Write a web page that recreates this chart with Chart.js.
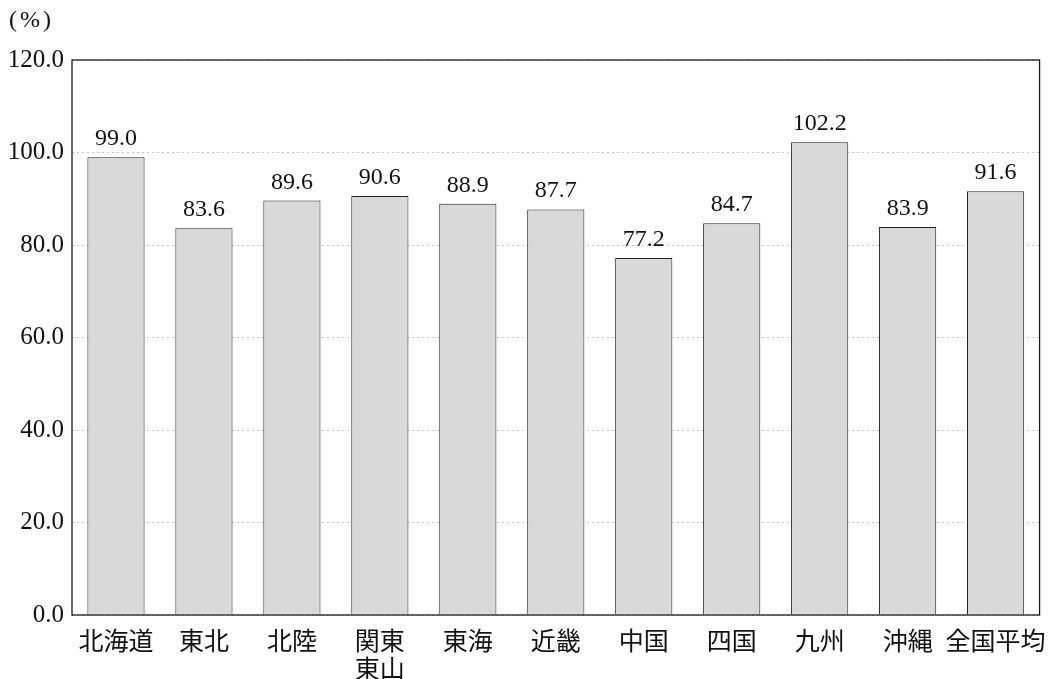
<!DOCTYPE html>
<html>
<head>
<meta charset="utf-8">
<script src="https://cdn.jsdelivr.net/npm/chart.js@4"></script>
<style>
  html, body { margin: 0; padding: 0; background: #fff; }
  #wrap { width: 1050px; height: 679px; position: relative; }
</style>
</head>
<body>
<div id="wrap"><canvas id="chart"></canvas></div>
<script>
const regions = ['北海道', '東北', '北陸', ['関東', '東山'], '東海', '近畿', '中国', '四国', '九州', '沖縄', '全国平均'];
const rates = [99.0, 83.6, 89.6, 90.6, 88.9, 87.7, 77.2, 84.7, 102.2, 83.9, 91.6];
const yTicks = [0, 20, 40, 60, 80, 100, 120];

const numFont = '"Liberation Serif", "DejaVu Serif", serif';
const jpFont = '"Noto Sans CJK JP", sans-serif';

// frame round the plot area, plus the unit label
const frame = {
  id: 'frame',
  afterDraw(chart) {
    const a = chart.chartArea, ctx = chart.ctx;
    ctx.save();
    ctx.strokeStyle = '#1a1a1a';
    ctx.lineWidth = 1.3;
    ctx.strokeRect(a.left, a.top, a.right - a.left, a.bottom - a.top);
    ctx.fillStyle = '#111';
    ctx.font = '24px ' + numFont;
    ctx.letterSpacing = '3px';
    ctx.textAlign = 'left';
    ctx.textBaseline = 'middle';
    ctx.fillText('(%)', 9, 21);
    ctx.restore();
  }
};

// value above each bar
const barValues = {
  id: 'barValues',
  afterDatasetsDraw(chart) {
    const ctx = chart.ctx;
    const meta = chart.getDatasetMeta(0);
    ctx.save();
    ctx.fillStyle = '#111';
    ctx.font = '24px ' + numFont;
    ctx.textAlign = 'center';
    ctx.textBaseline = 'alphabetic';
    meta.data.forEach((bar, i) => {
      ctx.fillText(rates[i].toFixed(1), bar.x, bar.y - 12);
    });
    ctx.restore();
  }
};

new Chart(document.getElementById('chart'), {
  type: 'bar',
  data: {
    labels: regions,
    datasets: [{
      data: rates,
      backgroundColor: '#d9d9d9',
      borderColor: '#222',
      borderWidth: 1,
      categoryPercentage: 1,
      barPercentage: 0.65
    }]
  },
  options: {
    responsive: true,
    maintainAspectRatio: false,
    animation: false,
    layout: { padding: { top: 60, right: 9, left: 0, bottom: 0 } },
    plugins: { legend: { display: false }, tooltip: { enabled: false } },
    scales: {
      x: {
        grid: { display: false },
        border: { display: false },
        ticks: {
          color: '#111',
          font: { family: jpFont, size: 25, lineHeight: 1.1 },
          padding: 4,
          maxRotation: 0,
          autoSkip: false
        },
        afterFit(scale) { scale.height = 64; }
      },
      y: {
        min: 0,
        max: 120,
        afterBuildTicks(scale) { scale.ticks = yTicks.map(v => ({ value: v })); },
        grid: { color: '#c4c4c4', lineWidth: 1, drawTicks: false },
        border: { display: false, dash: [2, 3] },
        ticks: {
          color: '#111',
          font: { family: numFont, size: 25 },
          padding: 8,
          callback: v => Number(v).toFixed(1)
        },
        afterFit(scale) { scale.width = 72; }
      }
    }
  },
  plugins: [frame, barValues]
});
</script>
</body>
</html>
